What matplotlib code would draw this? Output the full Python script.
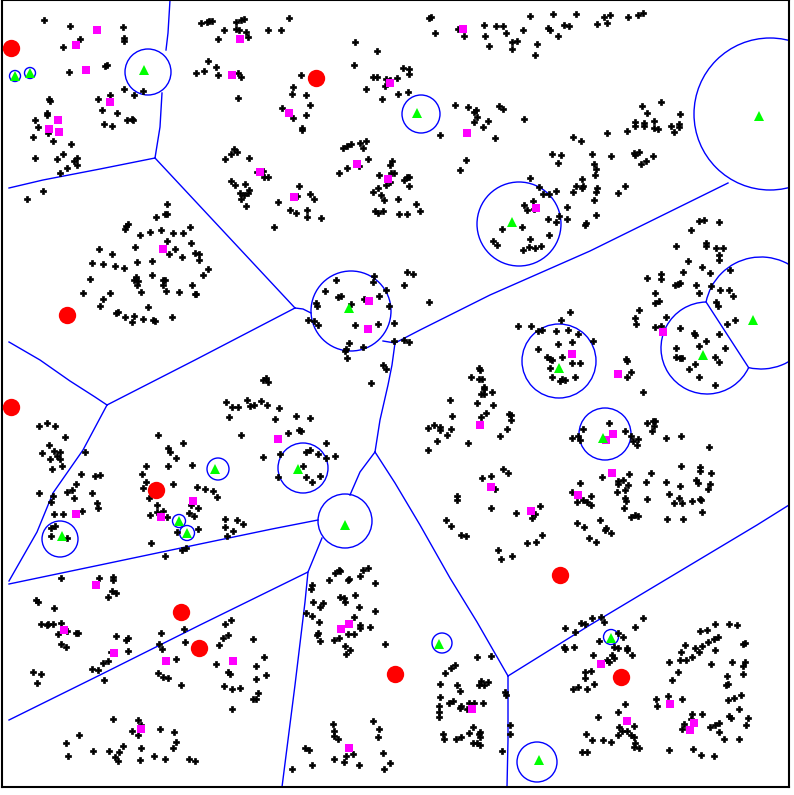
import numpy as np
import matplotlib
matplotlib.use("Agg")
import matplotlib.pyplot as plt
from matplotlib.patches import Circle, Arc

# data points, image-pixel coordinates (y grows downwards)
black_pts = [
    (44,20),(70,26),(123,27),(124,38),(124,41),(80,39),(63,47),(105,66),(107,65),(69,72),(196,73),(124,89),
    (143,91),(134,95),(110,95),(98,99),(49,99),(50,101),(102,110),(117,113),(47,113),(47,115),(35,120),(38,127),
    (127,120),(132,119),(133,120),(104,124),(112,126),(48,133),(33,137),(53,141),(71,144),(63,154),(35,158),
    (57,159),(74,161),(77,158),(77,165),(67,168),(60,173),(43,191),(27,199),(167,204),(156,217),(165,214),
    (167,214),(128,224),(126,226),(125,229),(150,232),(161,230),(173,233),(183,233),(190,227),(140,235),
    (167,241),(135,247),(191,243),(99,249),(175,249),(169,254),(112,254),(182,257),(195,253),(199,260),
    (92,263),(103,264),(137,262),(152,261),
    (201,23),(207,22),(209,21),(212,21),(236,22),(241,20),(244,19),(289,18),(224,30),(236,29),(239,30),
    (246,32),(268,30),(281,30),(218,39),(248,37),(355,42),(377,51),(208,61),(216,67),(204,71),(218,75),
    (238,73),(241,77),(301,75),(354,65),(373,77),(377,77),(386,79),(390,80),(385,86),(366,89),(382,99),
    (293,87),(292,94),(306,95),(238,98),(310,105),(282,108),(306,115),(293,118),(302,128),(302,130),
    (343,148),(347,146),(351,144),(360,143),(366,141),(363,148),(368,159),(339,173),(347,168),(359,166),
    (379,175),(390,165),(392,161),(391,173),(394,173),(390,182),(386,185),(373,192),(378,188),(381,195),
    (384,200),(375,211),(378,213),(383,211),(234,149),(237,152),(231,154),(225,159),(249,158),(257,172),
    (263,171),(264,177),(268,177),(231,181),(235,185),(245,184),(240,193),(241,199),(244,195),(249,190),
    (248,193),(246,206),(278,202),(299,186),(297,196),(310,194),(314,199),(290,210),(296,213),(307,210),
    (307,217),(321,218),(274,227),(199,254),
    (429,18),(431,17),(435,33),(458,29),(464,36),(484,25),(485,36),(489,46),(496,26),(503,26),(506,33),
    (512,42),(517,41),(512,49),(523,30),(530,16),(537,44),(535,55),(553,14),(548,28),(550,30),(558,36),
    (564,25),(569,26),(576,14),(403,68),(409,69),(409,74),(397,78),(398,94),(408,92),(455,105),(468,107),
    (474,112),(476,110),(477,117),(474,122),(483,127),(488,121),(495,138),(499,106),(503,109),(524,119),
    (440,135),(466,160),(460,170),(404,180),(407,177),(409,177),(409,186),(398,199),(416,204),(420,211),
    (399,214),(407,214),(573,137),(581,141),(552,154),(561,155),(558,163),(530,178),(539,187),(543,194),
    (549,194),(556,191),(533,201),(524,205),(527,210),(534,209),(582,179),(576,186),(582,188),(583,186),
    (573,192),(567,207),(559,216),(548,219),(567,219),(556,222),(522,227),(502,229),(586,223),(585,225),
    (549,235),(530,239),(493,241),(497,245),(523,250),(529,247),(535,248),(541,246),
    (597,24),(604,17),(607,23),(610,15),(628,17),(638,15),(643,13),(661,102),(642,106),(647,113),(680,114),
    (635,122),(635,126),(644,123),(644,126),(654,121),(654,128),(658,129),(671,126),(679,124),(679,127),
    (674,132),(627,131),(607,133),(592,154),(611,156),(634,153),(635,155),(639,152),(653,156),(646,161),
    (641,164),(594,164),(596,169),(595,175),(597,188),(596,192),(625,186),(618,193),(594,200),(596,215),
    (699,221),(704,220),(719,222),(691,230),(676,246),(706,243),(706,246),(716,248),(723,248),(719,255),
    (719,260),(688,261),
    (115,266),(124,268),(90,279),(136,277),(134,280),(138,281),(137,285),(152,275),(163,280),(165,280),
    (163,285),(166,291),(141,292),(83,293),(110,293),(179,292),(192,285),(195,294),(103,299),(100,306),
    (148,307),(116,313),(118,312),(125,317),(134,316),(143,319),(132,322),(153,320),(155,321),(172,317),
    (39,426),(47,423),(55,426),(65,437),(49,445),(54,451),(60,452),(42,453),(57,456),(50,459),(60,459),
    (85,452),(62,466),(52,469),(81,474),(95,476),(100,475),(76,484),(72,490),(67,492),(39,493),(92,493),
    (53,496),(74,498),(51,502),(97,503),(98,508),(82,511),(54,514),(63,514),
    (158,435),(183,443),(168,448),(170,452),(176,458),(146,466),(168,466),(192,465),(142,474),(146,482),
    (143,488),(173,484),(197,487),(149,498),(157,505),(191,505),(198,508),(150,515),(157,512),(163,511),
    (167,517),(189,513),(194,516),
    (208,269),(203,275),(196,294),(336,280),(374,276),(373,282),(386,290),(325,291),(338,297),(341,296),
    (351,304),(316,303),(317,306),(364,299),(379,296),(389,306),(308,320),(314,321),(318,325),(355,325),
    (378,324),(394,323),(349,343),(363,347),(346,349),(345,351),(347,358),(394,341),(383,365),(386,369),
    (371,383),(263,380),(266,378),(268,382),(226,402),(232,407),(238,407),(247,400),(250,406),(254,405),
    (261,401),(267,405),(279,408),(229,417),(275,419),(296,416),(310,418),(299,430),(301,431),(288,433),
    (241,435),(326,443),(306,452),(310,450),(318,454),(326,458),(335,456),(263,457),(280,454),(303,466),
    (278,477),(306,477),(320,476),(312,482),(205,489),(213,491),(217,497),(225,519),(237,520),(225,527),
    (243,524),
    (407,272),(413,274),(404,285),(429,302),(404,340),(409,342),(570,312),(561,320),(518,326),(531,326),
    (538,331),(542,330),(556,331),(568,330),(578,334),(572,342),(558,344),(538,349),(547,357),(550,359),
    (552,360),(562,357),(572,363),(580,363),(550,368),(552,377),(562,379),(560,381),(565,380),(575,377),
    (479,368),(480,370),(471,377),(479,379),(482,379),(484,387),(484,389),(481,394),(484,394),(492,392),
    (450,400),(477,403),(493,405),(452,416),(486,413),(481,417),(509,414),(511,415),(511,420),(434,425),
    (440,427),(440,430),(428,428),(451,429),(447,435),(507,429),(500,436),(437,441),(468,443),(428,450),
    (583,429),(578,436),(580,440),(572,438),(503,469),(508,473),(482,478),(491,476),(495,489),(457,496),
    (457,500),(491,508),(540,506),(516,513),(532,513),(535,514),(532,518),(446,520),(451,526),(580,483),
    (572,492),(583,500),(587,502),(577,502),(577,523),(584,527),
    (702,267),(730,270),(647,278),(661,274),(661,279),(683,272),(710,273),(675,285),(678,284),(680,283),
    (696,285),(720,290),(729,290),(711,286),(733,296),(655,293),(699,293),(655,303),(659,301),(716,302),
    (718,306),(639,310),(635,318),(636,324),(666,317),(655,327),(661,326),(727,324),(735,320),(680,328),
    (694,333),(695,335),(719,334),(706,341),(699,346),(676,348),(725,348),(676,357),(680,358),(682,358),
    (715,357),(719,362),(695,364),(689,369),(699,377),(715,385),(593,341),(626,359),(627,361),(631,372),
    (627,377),(643,392),
    (647,423),(653,421),(655,421),(654,426),(652,431),(609,423),(625,431),(631,436),(633,441),(638,439),
    (637,445),(666,438),(681,436),(709,447),(681,466),(700,467),(700,471),(711,473),(651,473),(629,474),
    (602,477),(618,481),(623,480),(618,484),(628,485),(646,482),(666,482),(696,480),(698,483),(710,484),
    (680,486),(708,489),(617,492),(625,490),(669,494),(591,496),(625,498),(626,501),(647,499),(679,498),
    (674,503),(682,503),(692,501),(700,499),(701,500),(591,505),(624,508),(635,515),(631,517),(638,516),
    (702,512),(667,519),(683,519),(600,520),(606,528),
    (51,528),(55,526),(51,536),(67,538),(151,543),(177,532),(182,550),(186,548),(165,556),(61,578),(99,578),
    (113,577),(113,580),(112,591),(116,593),(108,597),(36,600),(38,602),(54,608),(41,624),(47,625),(48,624),
    (53,624),(61,623),(67,631),(58,634),(76,633),(78,633),(116,636),(126,640),(128,638),(61,644),(66,647),
    (161,633),(184,629),(185,642),(159,644),(162,649),(128,651),(111,652),(108,661),(103,663),(176,659),
    (92,669),(98,670),(33,672),(41,674),(37,683),(104,680),(158,673),(163,677),(168,678),(181,685),(113,719),
    (138,720),(141,725),(132,731),(138,735),(160,729),(174,732),(79,735),(176,742),(66,743),(123,746),
    (141,748),(173,748),(93,751),(109,751),(119,752),(68,756),(115,757),(118,761),(154,756),(140,760),
    (165,759),(189,759),(195,761),
    (198,529),(233,531),(227,536),(339,570),(340,571),(335,573),(368,568),(363,570),(360,576),(349,579),
    (348,580),(329,580),(375,583),(312,585),(311,589),(340,597),(344,598),(345,602),(355,595),(313,602),
    (323,603),(320,607),(359,607),(306,613),(312,616),(375,611),(354,617),(319,622),(360,625),(360,628),
    (370,627),(348,634),(354,634),(318,633),(317,635),(339,638),(334,640),(320,641),(345,646),(350,650),
    (346,654),(385,644),(231,620),(225,624),(228,635),(223,638),(219,645),(253,639),(264,657),(256,666),
    (216,664),(228,672),(230,674),(266,675),(256,679),(224,686),(232,689),(240,688),(258,693),(253,699),
    (256,699),(232,709),(333,724),(373,721),(334,731),(379,729),(334,736),(338,739),(378,737),(305,748),
    (309,750),(346,756),(353,754),(334,759),(344,762),(383,753),(390,763),(312,765),(359,765),(384,769),
    (292,769),
    (461,535),(466,536),(498,550),(501,559),(512,556),(527,543),(536,542),(542,535),(589,538),(565,628),
    (575,632),(581,623),(585,624),(564,647),(565,649),(574,647),(585,672),(585,678),(573,689),(578,687),
    (587,689),(477,657),(491,656),(455,665),(451,668),(445,673),(440,684),(457,685),(460,691),(481,681),
    (479,685),(484,685),(488,682),(505,692),(506,695),(440,697),(449,703),(453,701),(461,706),(460,708),
    (469,703),(474,703),(467,709),(483,703),(439,706),(439,712),(439,717),(473,727),(510,725),(510,734),
    (469,733),(443,734),(444,739),(456,739),(461,737),(480,732),(480,737),(479,734),(473,743),(477,743),
    (480,745),(502,751),(586,734),(582,752),(587,752),
    (605,530),(611,533),(596,542),(592,618),(601,617),(604,622),(643,618),(635,627),(618,633),(623,637),
    (599,641),(614,647),(618,648),(627,648),(627,650),(593,655),(612,655),(614,658),(632,655),(607,660),
    (609,662),(591,671),(594,684),(700,631),(707,630),(715,624),(729,624),(737,625),(718,637),(714,639),
    (708,642),(685,645),(695,648),(702,646),(715,650),(681,652),(699,652),(692,657),(680,660),(686,660),
    (669,662),(711,664),(678,672),(672,680),(732,662),(745,662),(743,666),(743,674),(727,676),(728,684),
    (726,685),(743,644),(745,643),(741,695),(734,698),(728,700),(739,709),(729,716),(731,718),(748,718),
    (746,725),(668,696),(656,699),(657,706),(682,699),(625,704),(618,712),(598,717),(692,714),(702,714),
    (691,719),(684,724),(682,729),(710,727),(715,725),(719,723),(719,732),(724,739),(739,739),(634,726),
    (619,727),(622,731),(627,731),(631,735),(618,735),(634,737),(592,740),(603,740),(611,742),(635,743),
    (634,747),(639,748),(669,750),(693,749),(701,755),(714,756),
]

square_pts = [
    (97,30),(76,45),(86,70),(110,102),(58,120),(49,129),(59,132),(163,249),
    (240,39),(232,75),(289,113),(390,83),(260,172),(294,197),(357,164),(388,179),
    (463,29),(467,133),(536,208),(76,514),(161,517),(193,501),(369,301),(368,329),(278,439),
    (572,354),(480,425),(491,487),(531,511),(578,495),(663,332),(618,374),(613,434),(606,440),(612,473),
    (96,585),(64,630),(114,653),(166,661),(141,729),(233,661),(341,629),(349,624),(349,748),(472,709),
    (601,664),(670,704),(627,721),(694,723),(690,730),
]

red_pts = [(11,48),(316,78),(67,315),(11,407),(156,490),(181,612),(199,648),(395,674),(560,575),(621,677)]

triangle_pts = [
    (144,70),(15,76),(30,73),(417,113),(512,222),(759,116),(349,308),(298,469),(215,469),(179,521),
    (187,533),(62,536),(345,525),(559,368),(603,438),(703,355),(753,320),(439,644),(611,638),(539,760),
]

# (cx, cy, r)
circles = [
    (148,72,23),(15,76,5.5),(30,73,5.5),(421,114,19),(519,224,42),(770,114,76),(351,311,40),
    (303,468,25),(218,469,11),(179,521,6.5),(187,533,7.5),(60,539,18),(345,521,27),(559,361,37),
    (605,434,26),(442,643,10),(611,637,7.5),(537,762,20),
]
# pair of overlapping circles, drawn only outside each other
circle_pair = [(707,348,46),(761,313,56)]

edges = [
    [(170,0),(168,33),(166,50)],
    [(162,93),(160,127),(155,158)],
    [(155,158),(100,169),(43,180),(9,188)],
    [(155,158),(295,308)],
    [(295,308),(303,309),(311,313)],
    [(295,308),(195,360),(107,405)],
    [(9,342),(40,360),(70,381),(95,397),(107,405)],
    [(107,405),(83,450),(53,493),(37,532),(9,581)],
    [(9,584),(100,565),(200,544),(272,529),(318,520)],
    [(322,538),(308,572),(305,602),(295,685),(282,787)],
    [(9,720),(100,675),(200,625),(308,572)],
    [(375,452),(360,472),(350,495)],
    [(383,341),(395,343)],
    [(395,343),(392,365),(388,385),(380,420),(375,452)],
    [(395,343),(420,330),(490,295),(590,251),(728,183)],
    [(375,452),(395,483),(420,525),(450,578),(477,622),(508,676)],
    [(508,676),(508,740),(507,787)],
    [(508,676),(590,625),(757,525),(789,505)],
]

BLUE = "#0000ff"

fig = plt.figure(figsize=(7.94, 7.95), dpi=100)
ax = fig.add_axes([2/794, 8/795, 787/794, 787/795])
ax.set_xlim(2, 789)
ax.set_ylim(787, 0)
ax.set_xticks([])
ax.set_yticks([])
for s in ax.spines.values():
    s.set_linewidth(1.5)
    s.set_color("black")

for line in edges:
    xs, ys = zip(*line)
    ax.plot(xs, ys, color=BLUE, lw=1.0, zorder=2)

for cx, cy, r in circles:
    ax.add_patch(Circle((cx, cy), r, fill=False, edgecolor=BLUE, lw=1.0, zorder=2))

# overlapping pair: hide the part of each circle lying inside the other
(x1, y1, r1), (x2, y2, r2) = circle_pair
d = np.hypot(x2 - x1, y2 - y1)
a1 = (d**2 + r1**2 - r2**2) / (2 * d)
a2 = d - a1
for (cx, cy, r, a, ox, oy) in [(x1, y1, r1, a1, x2, y2), (x2, y2, r2, a2, x1, y1)]:
    direction = np.degrees(np.arctan2(oy - cy, ox - cx))
    half = np.degrees(np.arccos(a / r))
    ax.add_patch(Arc((cx, cy), 2*r, 2*r, theta1=direction + half, theta2=direction - half + 360,
                     edgecolor=BLUE, lw=1.0, zorder=2))
# chord between the two circles
bx = x1 + a1 / d * (x2 - x1)
by = y1 + a1 / d * (y2 - y1)
h = np.sqrt(r1**2 - a1**2)
px, py = -(y2 - y1) / d, (x2 - x1) / d
ax.plot([bx + h*px, bx - h*px], [by + h*py, by - h*py], color=BLUE, lw=1.0, zorder=2)

bx_, by_ = zip(*black_pts)
ax.plot(bx_, by_, "P", color="black", mec="black", ms=4.4, mew=0.5, ls="none", zorder=3)

sx, sy = zip(*square_pts)
ax.plot(sx, sy, "s", color="#ff00ff", ms=5.8, mew=0, ls="none", zorder=4)

rx, ry = zip(*red_pts)
ax.plot(rx, ry, "o", color="#ff0000", ms=12.5, mew=0, ls="none", zorder=4)

tx, ty = zip(*triangle_pts)
ax.plot(tx, ty, "^", color="#00ff00", ms=6.5, mew=0, ls="none", zorder=5)

fig.savefig("out.png", dpi=100)
